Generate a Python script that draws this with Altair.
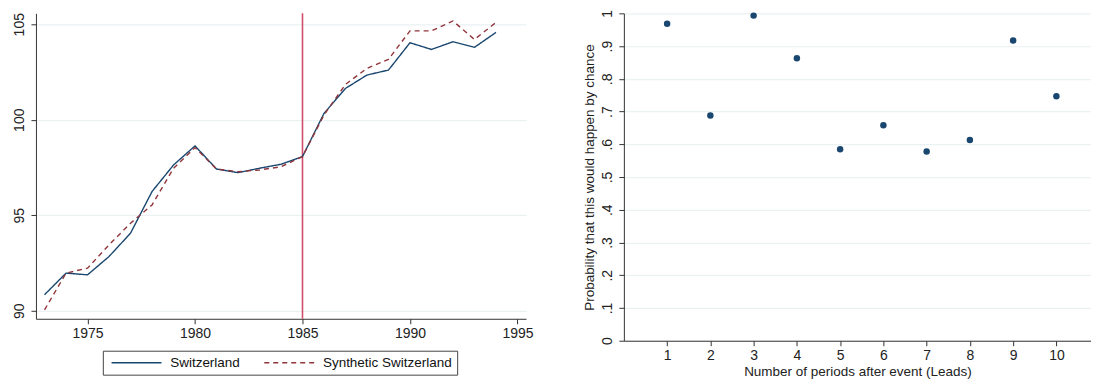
import altair as alt
import pandas as pd

# ---- data ----
years = list(range(1973, 1995))
switzerland = [90.84, 91.97, 91.88, 92.84, 94.06, 96.24, 97.63, 98.63, 97.42, 97.23,
               97.46, 97.67, 98.07, 100.33, 101.64, 102.34, 102.60, 104.03, 103.68,
               104.08, 103.79, 104.57]
synthetic = [90.05, 91.97, 92.23, 93.45, 94.58, 95.54, 97.46, 98.54, 97.42, 97.28,
             97.37, 97.54, 98.07, 100.25, 101.85, 102.69, 103.16, 104.65, 104.65,
             105.17, 104.20, 105.09]
series_names = ["Switzerland", "Synthetic Switzerland"]
event_year = [1985]

leads = [1, 2, 3, 4, 5, 6, 7, 8, 9, 10]
probability = [0.968, 0.688, 0.993, 0.863, 0.585, 0.658, 0.578, 0.613, 0.917, 0.747]

NAVY = "#1a476f"
MAROON = "#90353b"
EVENT = "#d24f6c"
GRID = "#eaf2f3"
AXIS = "#333333"
FONT = "Liberation Sans"

lines_df = pd.DataFrame({
    "year": years * 2,
    "value": switzerland + synthetic,
    "series": [series_names[0]] * len(years) + [series_names[1]] * len(years),
})
event_df = pd.DataFrame({"year": event_year})
prob_df = pd.DataFrame({"lead": leads, "prob": probability})

legend_opts = dict(title=None, orient="none", legendX=67, legendY=338,
                   direction="horizontal", symbolType="M-0.6,0H9.4",
                   symbolSize=100, symbolStrokeWidth=1.4,
                   labelFontSize=13.5, labelFont=FONT, labelColor="#111",
                   labelOffset=49, columnPadding=20,
                   strokeColor="#444", fillColor="white", padding=5)

x_left = alt.X("year:Q",
               scale=alt.Scale(domain=[1972.6, 1995.4], nice=False, zero=False),
               axis=alt.Axis(values=[1975, 1980, 1985, 1990, 1995], format="d",
                             title=None, grid=False))
y_left = alt.Y("value:Q",
               scale=alt.Scale(domain=[89.58, 105.57], nice=False, zero=False),
               axis=alt.Axis(values=[90, 95, 100, 105], title=None, labelAngle=-90,
                             grid=True))

lines = alt.Chart(lines_df).mark_line(strokeWidth=1.4, clip=True).encode(
    x=x_left,
    y=y_left,
    color=alt.Color("series:N",
                    scale=alt.Scale(domain=series_names, range=[NAVY, MAROON]),
                    legend=alt.Legend(**legend_opts)),
    strokeDash=alt.StrokeDash("series:N",
                              scale=alt.Scale(domain=series_names, range=[[1, 0], [5, 4]]),
                              legend=alt.Legend(**legend_opts)),
)

rule = alt.Chart(event_df).mark_rule(color=EVENT, strokeWidth=1.6).encode(
    x=alt.X("year:Q", scale=alt.Scale(domain=[1972.6, 1995.4], nice=False, zero=False))
)

left = alt.layer(rule, lines).properties(width=491, height=306)

right = alt.Chart(prob_df).mark_circle(size=42, opacity=1, color=NAVY).encode(
    x=alt.X("lead:Q", scale=alt.Scale(domain=[0, 10.8], nice=False),
            axis=alt.Axis(values=leads, title="Number of periods after event (Leads)",
                          grid=False, titlePadding=2)),
    y=alt.Y("prob:Q", scale=alt.Scale(domain=[0, 1], nice=False),
            axis=alt.Axis(values=[0, 0.1, 0.2, 0.3, 0.4, 0.5, 0.6, 0.7, 0.8, 0.9, 1.0],
                          labelAngle=-90, grid=True,
                          labelExpr="datum.value == 0 ? '0' : datum.value == 1 ? '1' : replace(format(datum.value, '.1f'), '0.', '.')",
                          title="Probability that this would happen by chance")),
).properties(width=468, height=328)

chart = alt.hconcat(left, right, spacing=50).resolve_scale(
    color="independent", strokeDash="independent"
).properties(
    padding={"left": 5, "top": 1, "right": 0, "bottom": 0}
).configure_view(
    stroke=None
).configure_axis(
    domainColor=AXIS, tickColor=AXIS, tickSize=5, domainWidth=1, tickWidth=1,
    labelFont=FONT, labelFontSize=14, labelColor="#222", labelPadding=3,
    titleFont=FONT, titleFontSize=13.5, titleFontWeight="normal", titleColor="#222",
    titlePadding=4, gridColor=GRID, gridWidth=1.2
).configure_axisY(
    labelPadding=4
)

chart.save("out.html", embed_options={"renderer": "svg", "actions": False})
